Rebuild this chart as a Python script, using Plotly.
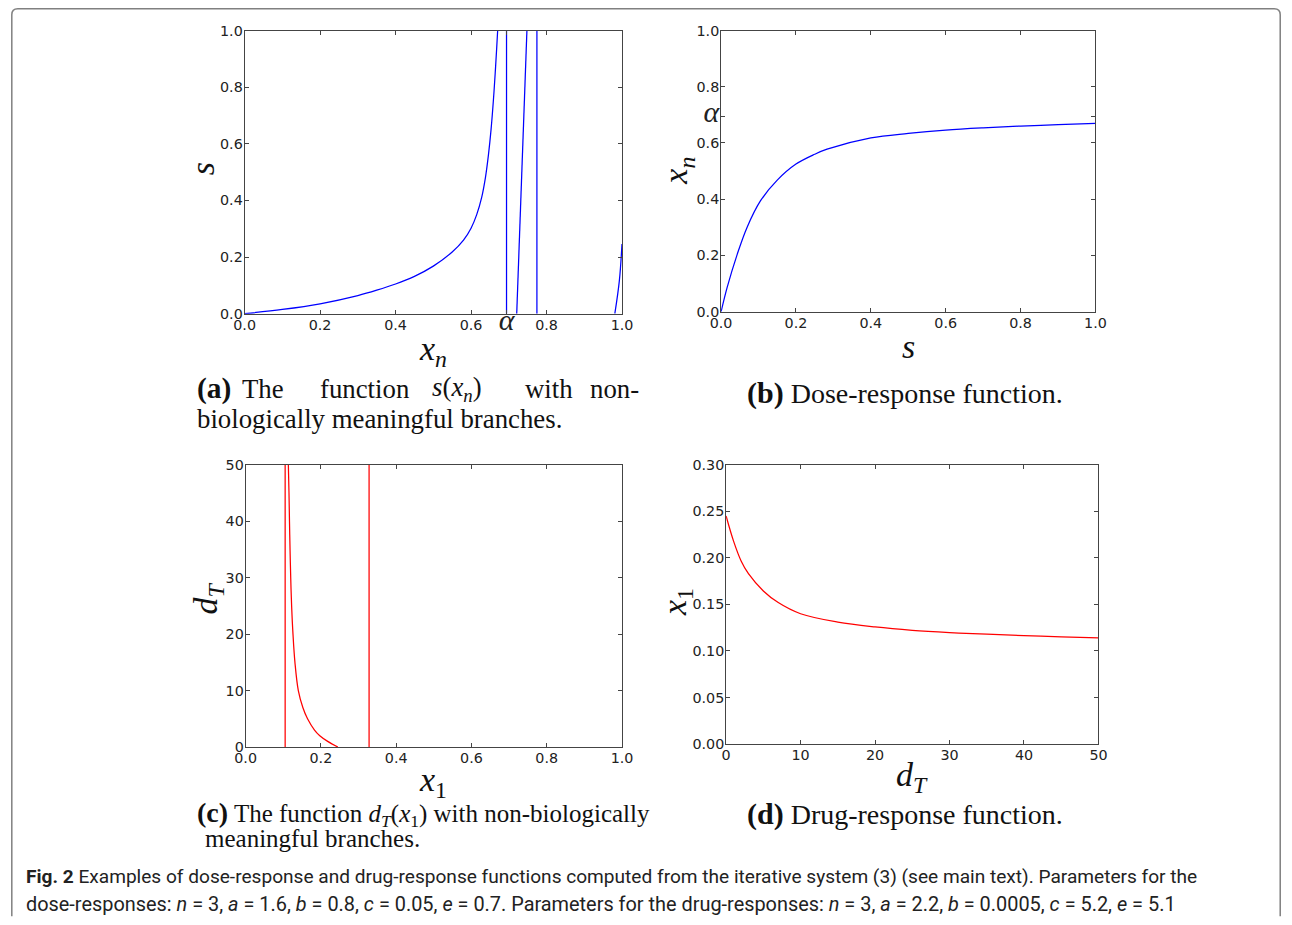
import plotly.graph_objects as go

# Figure fills the 1292x925 page (body margin removed after drawing).
FW, FH = 1292, 925
# measured photo transform: photo = S * page + O ; positions below are photo pixels
S = 0.982
OX, OY = 11.6, 7.5

# ---------------- data ----------------
# (a) s(x_n) branches
a_branch1_x = [0.0, 0.1, 0.2, 0.3, 0.35, 0.4, 0.45, 0.5, 0.55, 0.58, 0.60, 0.615, 0.628, 0.638, 0.646, 0.653, 0.659, 0.664, 0.668, 0.6705]
a_branch1_s = [0.0, 0.015, 0.035, 0.064, 0.083, 0.105, 0.132, 0.168, 0.218, 0.26, 0.302, 0.35, 0.41, 0.48, 0.56, 0.65, 0.75, 0.85, 0.94, 1.0]
a_branch2_x = [0.694, 0.694]
a_branch2_s = [0.0, 1.0]
a_branch3_x = [0.721, 0.748]
a_branch3_s = [0.0, 1.0]
a_branch4_x = [0.7745, 0.7745]
a_branch4_s = [0.0, 1.0]
a_branch5_x = [0.981, 0.993, 1.0]
a_branch5_s = [0.0, 0.117, 0.246]

# (b) dose-response x_n(s)
b_s = [0.0, 0.016, 0.043, 0.069, 0.105, 0.15, 0.2, 0.25, 0.283, 0.4, 0.5, 0.6, 0.7, 0.8, 0.9, 1.0]
b_xn = [0.0, 0.0855, 0.204, 0.299, 0.394, 0.468, 0.525, 0.560, 0.578, 0.618, 0.634, 0.646, 0.654, 0.660, 0.665, 0.670]

# (c) d_T(x_1) branches
c_branch1_x = [0.105, 0.105]
c_branch1_d = [0.0, 50.0]
c_branch2_x = [0.1135, 0.1152, 0.1165, 0.118, 0.1198, 0.1222, 0.1258, 0.131, 0.140, 0.152, 0.1645, 0.183, 0.197, 0.218, 0.245]
c_branch2_d = [50, 45, 40, 35, 30, 25, 20, 15, 10, 7, 5, 3, 2, 1, 0]
c_branch3_x = [0.328, 0.328]
c_branch3_d = [0.0, 50.0]

# (d) drug-response x_1(d_T)
d_dT = [0, 1, 2, 3, 5, 7, 10, 15, 20, 25, 30, 35, 40, 45, 50]
d_x1 = [0.245, 0.218, 0.197, 0.183, 0.1645, 0.152, 0.140, 0.131, 0.1258, 0.1222, 0.1198, 0.118, 0.1165, 0.1152, 0.1140]

alpha_val = 0.694
unit_ticks = [0.0, 0.2, 0.4, 0.6, 0.8, 1.0]
unit_ticktext = ["0.0", "0.2", "0.4", "0.6", "0.8", "1.0"]
dT_ticks = [0, 10, 20, 30, 40, 50]
x1_ticks = [0.0, 0.05, 0.10, 0.15, 0.20, 0.25, 0.30]
x1_ticktext = ["0.00", "0.05", "0.10", "0.15", "0.20", "0.25", "0.30"]

BLUE = "#0000ff"
RED = "#ff0000"
SERIF = "Liberation Serif, DejaVu Serif, serif"
SANS = "DejaVu Sans, sans-serif"
ALPHA_TXT = '<span style="font-family:Liberation Serif;font-size:30px"><i>α</i></span>'

fig = go.Figure()

def add_line(x, y, color, xa, ya, smooth=False):
    fig.add_trace(go.Scatter(x=x, y=y, mode="lines", xaxis=xa, yaxis=ya,
                             line=dict(color=color, width=1.25,
                                       shape="spline" if smooth else "linear"),
                             showlegend=False, hoverinfo="skip"))

add_line(a_branch1_x, a_branch1_s, BLUE, "x", "y", True)
add_line(a_branch2_x, a_branch2_s, BLUE, "x", "y")
add_line(a_branch3_x, a_branch3_s, BLUE, "x", "y")
add_line(a_branch4_x, a_branch4_s, BLUE, "x", "y")
add_line(a_branch5_x, a_branch5_s, BLUE, "x", "y", True)
add_line(b_s, b_xn, BLUE, "x2", "y2", True)
add_line(c_branch1_x, c_branch1_d, RED, "x3", "y3")
add_line(c_branch2_x, c_branch2_d, RED, "x3", "y3", True)
add_line(c_branch3_x, c_branch3_d, RED, "x3", "y3")
add_line(d_dT, d_x1, RED, "x4", "y4", True)

def fx(p):
    return ((p - OX) / S) / FW

def fy(p):
    return 1 - ((p - OY) / S) / FH

def xdom(x0, x1):
    return [fx(x0), fx(x1)]

def ydom(top, bottom):
    return [fy(bottom), fy(top)]

def axis(domain, rng, tickvals, ticktext, anchor):
    return dict(domain=domain, range=rng, tickvals=tickvals, ticktext=ticktext,
                anchor=anchor, showgrid=False, zeroline=False, showline=True,
                linecolor="#444", linewidth=1, mirror="allticks", ticks="inside",
                ticklen=4, tickwidth=1, tickcolor="#444", ticklabelstandoff=-2,
                tickfont=dict(family=SANS, size=14.3, color="#222"),
                fixedrange=True)

layout = dict(
    width=FW, height=FH, margin=dict(l=0, r=0, t=0, b=0),
    paper_bgcolor="white", plot_bgcolor="white", showlegend=False,
    xaxis=axis(xdom(245, 622), [0, 1],
               [0.0, 0.2, 0.4, 0.6, alpha_val, 0.8, 1.0],
               ["0.0", "0.2", "0.4", "0.6", ALPHA_TXT, "0.8", "1.0"], "y"),
    yaxis=axis(ydom(30, 313), [0, 1], unit_ticks, unit_ticktext, "x"),
    xaxis2=axis(xdom(721, 1095), [0, 1], unit_ticks, unit_ticktext, "y2"),
    yaxis2=axis(ydom(30, 311), [0, 1],
                [0.0, 0.2, 0.4, 0.6, alpha_val, 0.8, 1.0],
                ["0.0", "0.2", "0.4", "0.6", ALPHA_TXT, "0.8", "1.0"], "x2"),
    xaxis3=axis(xdom(246, 622), [0, 1], unit_ticks, unit_ticktext, "y3"),
    yaxis3=axis(ydom(464, 746), [0, 50], dT_ticks, [str(v) for v in dT_ticks], "x3"),
    xaxis4=axis(xdom(726, 1098), [0, 50], dT_ticks, [str(v) for v in dT_ticks], "y4"),
    yaxis4=axis(ydom(464, 743), [0, 0.30], x1_ticks, x1_ticktext, "x4"),
)
fig.update_layout(**layout)

def note(px, py, text, size, family=SERIF, xanchor="center", angle=0, color="#111"):
    fig.add_annotation(x=fx(px), y=fy(py), xref="paper", yref="paper",
                       text=text, showarrow=False, xanchor=xanchor, yanchor="middle",
                       textangle=angle, font=dict(family=family, size=size, color=color))

# axis titles
AT = 34
note(433, 350, "<i>x</i><sub><i>n</i></sub>", AT)
note(203, 168, "<i>s</i>", AT, angle=-90)
note(908, 346, "<i>s</i>", AT)
note(678, 170, "<i>x</i><sub><i>n</i></sub>", AT, angle=-90)
note(433, 781, "<i>x</i><sub>1</sub>", AT)
note(208, 598, "<i>d</i><sub><i>T</i></sub>", AT, angle=-90)
note(912, 776, "<i>d</i><sub><i>T</i></sub>", AT)
note(677, 601, "<i>x</i><sub>1</sub>", AT, angle=-90)

# sub-captions
CAPA = 26.8
CAPB = 28.0
CAPC = 25.0
note(195, 388, "<b>(a)</b>", 29.5, xanchor="left")
note(240, 388, "The", CAPA, xanchor="left")
note(318, 388, "function", CAPA, xanchor="left")
note(430, 388, "<i>s</i>(<i>x</i><sub><i>n</i></sub>)", CAPA, xanchor="left")
note(523, 388, "with", CAPA, xanchor="left")
note(588, 388, "non-", CAPA, xanchor="left")
note(195, 418, "biologically meaningful branches.", CAPA, xanchor="left")

note(745, 392, "<b><span style='font-size:30px'>(b)</span></b> Dose-response function.", CAPB, xanchor="left")

note(195, 813, "<b><span style='font-size:28px'>(c)</span></b> The function <i>d</i><sub><i>T</i></sub>"
     "(<i>x</i><sub>1</sub>) with non-biologically", CAPC, xanchor="left")
note(203, 837, "meaningful branches.", CAPC, xanchor="left")

note(745, 813, "<b><span style='font-size:30px'>(d)</span></b> Drug-response function.", CAPB, xanchor="left")

# figure caption
FIGF = "Roboto, Noto Sans, sans-serif"
note(25, 875, "<b>Fig. 2</b> Examples of dose-response and drug-response functions computed from the "
     "iterative system (3) (see main text). Parameters for the", 19.1, family=FIGF,
     xanchor="left", color="#222")
note(25, 903, "dose-responses: <i>n</i> = 3, <i>a</i> = 1.6, <i>b</i> = 0.8, <i>c</i> = 0.05, "
     "<i>e</i> = 0.7. Parameters for the drug-responses: <i>n</i> = 3, <i>a</i> = 2.2, "
     "<i>b</i> = 0.0005, <i>c</i> = 5.2, <i>e</i> = 5.1", 19.9, family=FIGF,
     xanchor="left", color="#222")

# outer frame with rounded top corners (kept inside the drawable page)
def clampx(v):
    return min(max(v, OX + 0.8), OX + S * (FW - 0.8))

def clampy(v):
    return min(max(v, OY + 0.8), OY + S * (FH - 0.8))

L, T, R, B = clampx(7.5), clampy(6.5), clampx(1291), clampy(940)
frame_path = (f"M {fx(L)},{fy(B)} L {fx(L)},{fy(T + 6)} "
              f"Q {fx(L)},{fy(T)} {fx(L + 6)},{fy(T)} "
              f"L {fx(R - 6)},{fy(T)} Q {fx(R)},{fy(T)} {fx(R)},{fy(T + 6)} "
              f"L {fx(R)},{fy(B)}")
fig.add_shape(type="path", path=frame_path, xref="paper", yref="paper",
              line=dict(color="#808080", width=1.5), layer="below")

fig.write_html("out.html", config={"displayModeBar": False},
               post_script="document.body.style.margin='0';")
